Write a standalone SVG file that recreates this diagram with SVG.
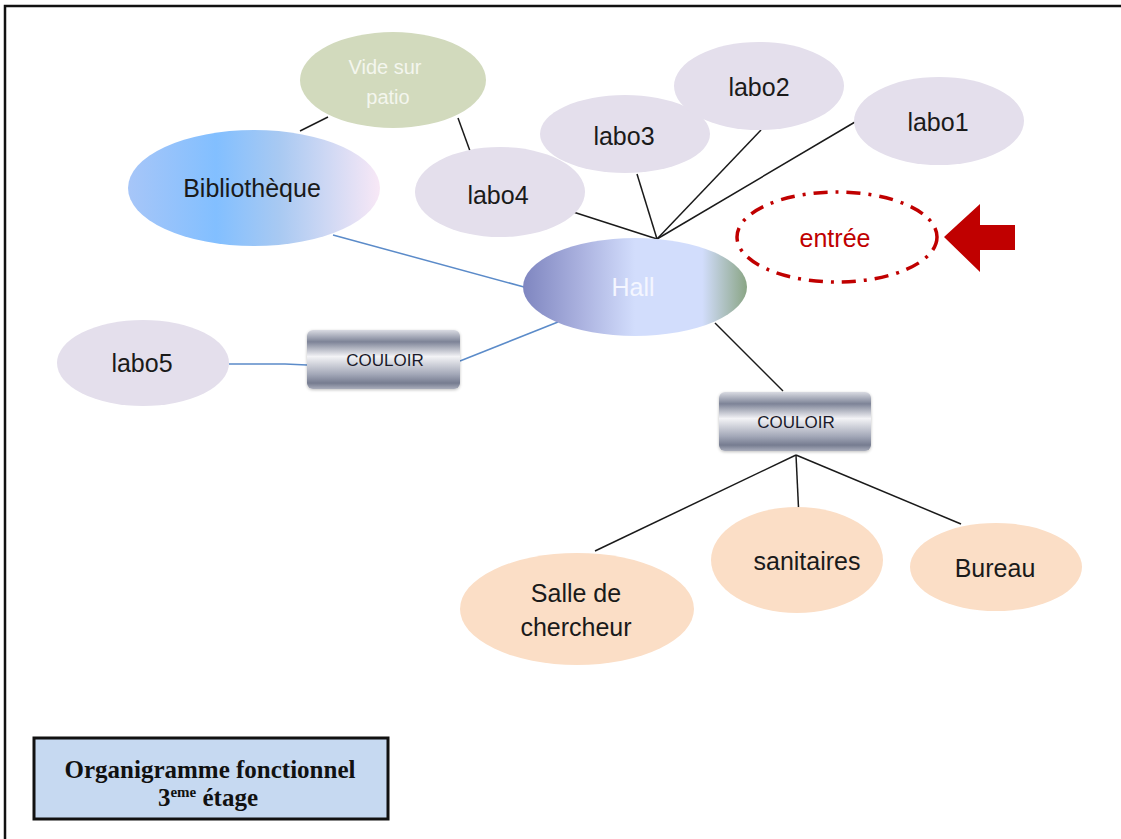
<svg xmlns="http://www.w3.org/2000/svg" width="1121" height="839" viewBox="0 0 1121 839">
  <defs>
    <linearGradient id="gBiblio" x1="0" y1="0" x2="1" y2="0">
      <stop offset="0" stop-color="#a7c6f8"/>
      <stop offset="0.35" stop-color="#82bfff"/>
      <stop offset="0.6" stop-color="#a8c9f2"/>
      <stop offset="1" stop-color="#f8e8f6"/>
    </linearGradient>
    <linearGradient id="gHall" x1="0" y1="0" x2="1" y2="0">
      <stop offset="0" stop-color="#7f86c0"/>
      <stop offset="0.25" stop-color="#a9b0de"/>
      <stop offset="0.5" stop-color="#d2ddfc"/>
      <stop offset="0.8" stop-color="#d2ddfc"/>
      <stop offset="1" stop-color="#8aa585"/>
    </linearGradient>
    <linearGradient id="gCouloir" x1="0" y1="0" x2="0" y2="1">
      <stop offset="0" stop-color="#d9dbe2"/>
      <stop offset="0.2" stop-color="#7d8397"/>
      <stop offset="0.45" stop-color="#f3f3f6"/>
      <stop offset="0.75" stop-color="#a3a8b8"/>
      <stop offset="0.9" stop-color="#767c90"/>
      <stop offset="1" stop-color="#a9adbb"/>
    </linearGradient>
    <filter id="soft" x="-10%" y="-10%" width="120%" height="130%">
      <feGaussianBlur in="SourceAlpha" stdDeviation="1.5"/>
      <feOffset dy="1" result="b"/>
      <feFlood flood-color="#000" flood-opacity="0.25"/>
      <feComposite in2="b" operator="in"/>
      <feMerge><feMergeNode/><feMergeNode in="SourceGraphic"/></feMerge>
    </filter>
  </defs>
  <style>
    .lbl { font-family: "Liberation Sans", Arial, sans-serif; font-size: 25px; fill: #1a1a1a; text-anchor: middle; }
    .lab { fill: #e4dfec; }
    .peach { fill: #fbdec6; }
    .cor { font-family: "Liberation Sans", Arial, sans-serif; font-size: 17px; fill: #1a1a2a; text-anchor: middle; }
    .blk { stroke: #1a1a1a; stroke-width: 1.5; fill: none; }
    .blu { stroke: #5b8bc9; stroke-width: 1.5; fill: none; }
    .title { font-family: "Liberation Serif", "Times New Roman", serif; font-weight: bold; fill: #111; text-anchor: middle; }
  </style>

  <rect width="1121" height="839" fill="#ffffff"/>
  <!-- page frame (top and left edges visible) -->
  <path d="M5 845 V6 H1125" fill="none" stroke="#111" stroke-width="2.5"/>

  <!-- connectors -->
  <g id="connectors">
    <line class="blk" x1="328" y1="117" x2="300" y2="131"/>
    <line class="blk" x1="458" y1="118" x2="470" y2="151"/>
    <line class="blk" x1="567" y1="210" x2="657" y2="239"/>
    <line class="blk" x1="637" y1="174" x2="657" y2="239"/>
    <line class="blk" x1="761" y1="130" x2="657" y2="239"/>
    <line class="blk" x1="855" y1="122" x2="657" y2="239"/>
    <line class="blu" x1="333" y1="235" x2="524" y2="287"/>
    <line class="blu" x1="558" y1="322" x2="460" y2="361"/>
    <polyline class="blu" points="229,364 285,364 307,365"/>
    <line class="blk" x1="715" y1="323" x2="783" y2="391"/>
    <line class="blk" x1="796" y1="455" x2="595" y2="551"/>
    <line class="blk" x1="796" y1="455" x2="799" y2="518"/>
    <line class="blk" x1="796" y1="455" x2="961" y2="524"/>
  </g>

  <g id="vide-patio">
    <ellipse cx="393" cy="80" rx="93" ry="48" fill="#d2dabd"/>
    <text class="lbl" x="385" y="74" style="fill:#f4f6ee;font-size:20px">Vide sur</text>
    <text class="lbl" x="388" y="104" style="fill:#f4f6ee;font-size:20px">patio</text>
  </g>

  <g id="bibliotheque">
    <ellipse cx="254" cy="188" rx="126" ry="58" fill="url(#gBiblio)"/>
    <text class="lbl" x="252" y="197">Bibliothèque</text>
  </g>

  <g id="labo4">
    <ellipse class="lab" cx="500" cy="192" rx="85" ry="45"/>
    <text class="lbl" x="498" y="204">labo4</text>
  </g>

  <g id="labo3">
    <ellipse class="lab" cx="625" cy="134" rx="85" ry="39"/>
    <text class="lbl" x="624" y="145">labo3</text>
  </g>

  <g id="labo2">
    <ellipse class="lab" cx="759" cy="86" rx="85" ry="44"/>
    <text class="lbl" x="759" y="96">labo2</text>
  </g>

  <g id="labo1">
    <ellipse class="lab" cx="939" cy="121" rx="85" ry="44"/>
    <text class="lbl" x="938" y="131">labo1</text>
  </g>

  <g id="hall">
    <ellipse cx="635" cy="287" rx="112" ry="49" fill="url(#gHall)"/>
    <text class="lbl" x="633" y="296" style="fill:#f4f6ff">Hall</text>
  </g>

  <g id="entree">
    <ellipse cx="837" cy="237" rx="100" ry="45" fill="none" stroke="#c00000" stroke-width="3.5" stroke-dasharray="14 8 3 8"/>
    <text class="lbl" x="835" y="247" style="fill:#c00000">entrée</text>
  </g>

  <g id="fleche-entree">
    <polygon points="944,237 980,204 980,225 1015,225 1015,250 980,250 980,272" fill="#c00000"/>
  </g>

  <g id="labo5">
    <ellipse class="lab" cx="143" cy="363" rx="86" ry="43"/>
    <text class="lbl" x="142" y="372">labo5</text>
  </g>

  <g id="couloir-ouest">
    <rect x="307" y="330" width="153" height="59" rx="6" fill="url(#gCouloir)" filter="url(#soft)"/>
    <text class="cor" x="385" y="366">COULOIR</text>
  </g>

  <g id="couloir-est">
    <rect x="719" y="392" width="152" height="59" rx="6" fill="url(#gCouloir)" filter="url(#soft)"/>
    <text class="cor" x="796" y="428">COULOIR</text>
  </g>

  <g id="salle-chercheur">
    <ellipse class="peach" cx="577" cy="609" rx="117" ry="56"/>
    <text class="lbl" x="576" y="602">Salle de</text>
    <text class="lbl" x="576" y="636">chercheur</text>
  </g>

  <g id="sanitaires">
    <ellipse class="peach" cx="797" cy="560" rx="86" ry="53"/>
    <text class="lbl" x="807" y="570">sanitaires</text>
  </g>

  <g id="bureau">
    <ellipse class="peach" cx="996" cy="567" rx="86" ry="44"/>
    <text class="lbl" x="995" y="577">Bureau</text>
  </g>

  <g id="titre">
    <rect x="34" y="738" width="354" height="81" fill="#c6d9f1" stroke="#111" stroke-width="3"/>
    <text class="title" x="210" y="778" font-size="25">Organigramme fonctionnel</text>
    <text class="title" x="208" y="806" font-size="25">3<tspan font-size="15" dy="-9">eme</tspan><tspan dy="9"> étage</tspan></text>
  </g>
</svg>
